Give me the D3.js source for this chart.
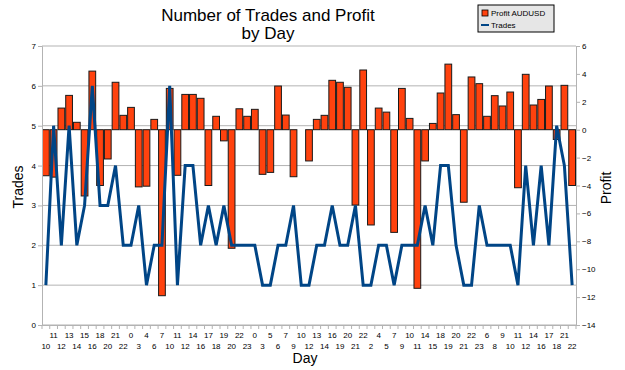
<!DOCTYPE html>
<html>
<head>
<meta charset="utf-8">
<script src="https://cdn.jsdelivr.net/npm/d3@7"></script>
<style>
  body { margin: 0; background: #fff; }
  text { font-family: "Liberation Sans", Arial, sans-serif; }
</style>
</head>
<body>
<div id="chart"></div>
<script>
var days = ['10','11','12','13','14','15','16','18','20','21','22','0','3','4','6','7','10','11','12','14',
  '16','17','18','19','20','22','23','0','3','5','6','7','9','10','12','13','14','16','19','20',
  '21','22','2','4','5','7','9','10','11','14','15','18','19','20','21','22','23','6','8','9',
  '10','11','12','14','16','17','18','21','22'];

var profit = [-3.3,-3.4,1.55,2.46,0.53,-4.75,4.2,-4.0,-2.1,3.4,
  1.03,1.6,-4.1,-4.05,0.74,-11.9,2.96,-3.27,2.53,2.53,
  2.25,-4.0,0.96,-0.8,-8.5,1.5,0.96,1.46,-3.2,-3.06,
  3.13,1.05,-3.37,0,-2.24,0.74,1.03,3.54,3.4,3.04,
  -5.4,4.28,-6.83,1.55,1.26,-7.36,2.96,0.81,-11.37,-2.24,
  0.45,2.63,4.7,1.08,-5.2,3.78,3.3,0.96,2.44,1.7,
  2.7,-4.16,3.97,1.77,2.17,3.13,-0.7,3.18,-4.0];

var trades = [1,5,2,5,2,3,6,3,3,4, 2,2,3,1,2,2,6,1,4,4,
  2,3,2,3,2,2,2,2,1,1, 2,2,3,1,1,2,2,3,2,2,
  3,1,1,2,2,1,2,2,2,3, 2,4,4,2,1,1,3,2,2,2,
  2,1,4,2,4,2,5,4,1];

var tradeTicks = [0,1,2,3,4,5,6,7];
var profitTicks = [6,4,2,0,-2,-4,-6,-8,-10,-12,-14];

var plotL = 42, plotR = 576, plotT = 46, plotB = 325;

var svg = d3.select('#chart').append('svg')
    .attr('width', 625)
    .attr('height', 370);

var x = d3.scaleBand().domain(d3.range(days.length)).range([plotL, plotR]).padding(0);
var yT = d3.scaleLinear().domain([0, 7]).range([plotB, plotT]);
var yP = d3.scaleLinear().domain([-14, 6]).range([plotB, plotT]);

// grid
svg.append('g').selectAll('line').data(tradeTicks).enter().append('line')
    .attr('x1', plotL).attr('x2', plotR)
    .attr('y1', d => yT(d)).attr('y2', d => yT(d))
    .attr('stroke', '#b3b3b3').attr('stroke-width', 1);

// bars
svg.append('g').selectAll('rect').data(profit).enter().append('rect')
    .attr('x', (d, i) => x(i) + 0.5)
    .attr('width', x.bandwidth() - 1)
    .attr('y', d => Math.min(yP(d), yP(0)))
    .attr('height', d => Math.abs(yP(d) - yP(0)))
    .attr('fill', '#ff420e')
    .attr('stroke', (d) => d === 0 ? 'none' : '#1a1a1a')
    .attr('stroke-width', 1);

// trades line
var line = d3.line()
    .x((d, i) => x(i) + x.bandwidth() / 2)
    .y(d => yT(d));
svg.append('path').datum(trades)
    .attr('d', line)
    .attr('fill', 'none')
    .attr('stroke', '#004586')
    .attr('stroke-width', 3)
    .attr('stroke-linejoin', 'miter');

// axes
var leftAxis = d3.axisLeft(yT).tickValues(tradeTicks).tickFormat(d3.format('d')).tickSize(4).tickPadding(2);
var gl = svg.append('g').attr('transform', 'translate(' + plotL + ',0)').call(leftAxis);

var rightAxis = d3.axisRight(yP).tickValues(profitTicks).tickFormat(d3.format('d')).tickSize(4).tickPadding(2);
var gr = svg.append('g').attr('transform', 'translate(' + plotR + ',0)').call(rightAxis);

var bottomAxis = d3.axisBottom(x).tickValues([]).tickSizeOuter(0);
var gb = svg.append('g').attr('transform', 'translate(0,' + plotB + ')').call(bottomAxis);

// category boundary ticks
gb.selectAll('.bt').data(d3.range(days.length + 1)).enter().append('line')
    .attr('class', 'bt')
    .attr('x1', i => plotL + i * x.step()).attr('x2', i => plotL + i * x.step())
    .attr('y1', 0).attr('y2', 4)
    .attr('stroke', '#b3b3b3');

gb.selectAll('.dl').data(days).enter().append('text')
    .attr('class', 'dl')
    .attr('x', (d, i) => x(i) + x.bandwidth() / 2)
    .attr('y', (d, i) => i % 2 ? 13 : 24)
    .attr('text-anchor', 'middle')
    .attr('font-size', 8)
    .attr('fill', '#000')
    .text(d => d);

[gl, gr, gb].forEach(function(g) {
  g.selectAll('.domain').attr('stroke', '#b3b3b3');
  g.selectAll('.tick line').attr('stroke', '#b3b3b3');
  g.selectAll('.tick text').attr('font-size', 8).attr('fill', '#000')
    .style('font-family', '"Liberation Sans", Arial, sans-serif');
});

// titles
svg.append('text').attr('x', 268).attr('y', 21).attr('text-anchor', 'middle')
    .attr('font-size', 17).text('Number of Trades and Profit');
svg.append('text').attr('x', 268).attr('y', 39).attr('text-anchor', 'middle')
    .attr('font-size', 17).text('by Day');

svg.append('text').attr('x', 305).attr('y', 363).attr('text-anchor', 'middle')
    .attr('font-size', 14).text('Day');
svg.append('text').attr('transform', 'translate(23,187) rotate(-90)')
    .attr('text-anchor', 'middle').attr('font-size', 14).text('Trades');
svg.append('text').attr('transform', 'translate(611,188) rotate(-90)')
    .attr('text-anchor', 'middle').attr('font-size', 14).text('Profit');

// legend
var lg = svg.append('g').attr('transform', 'translate(478,5)');
lg.append('rect').attr('width', 76).attr('height', 27)
    .attr('fill', '#e6e6e6').attr('stroke', '#000').attr('stroke-width', 1);
lg.append('rect').attr('x', 4).attr('y', 5).attr('width', 6).attr('height', 6)
    .attr('fill', '#ff420e').attr('stroke', '#000').attr('stroke-width', 0.8);
lg.append('text').attr('x', 13).attr('y', 11).attr('font-size', 8).text('Profit AUDUSD');
lg.append('line').attr('x1', 3).attr('x2', 11).attr('y1', 20).attr('y2', 20)
    .attr('stroke', '#004586').attr('stroke-width', 2);
lg.append('text').attr('x', 13).attr('y', 23).attr('font-size', 8).text('Trades');
</script>
</body>
</html>
